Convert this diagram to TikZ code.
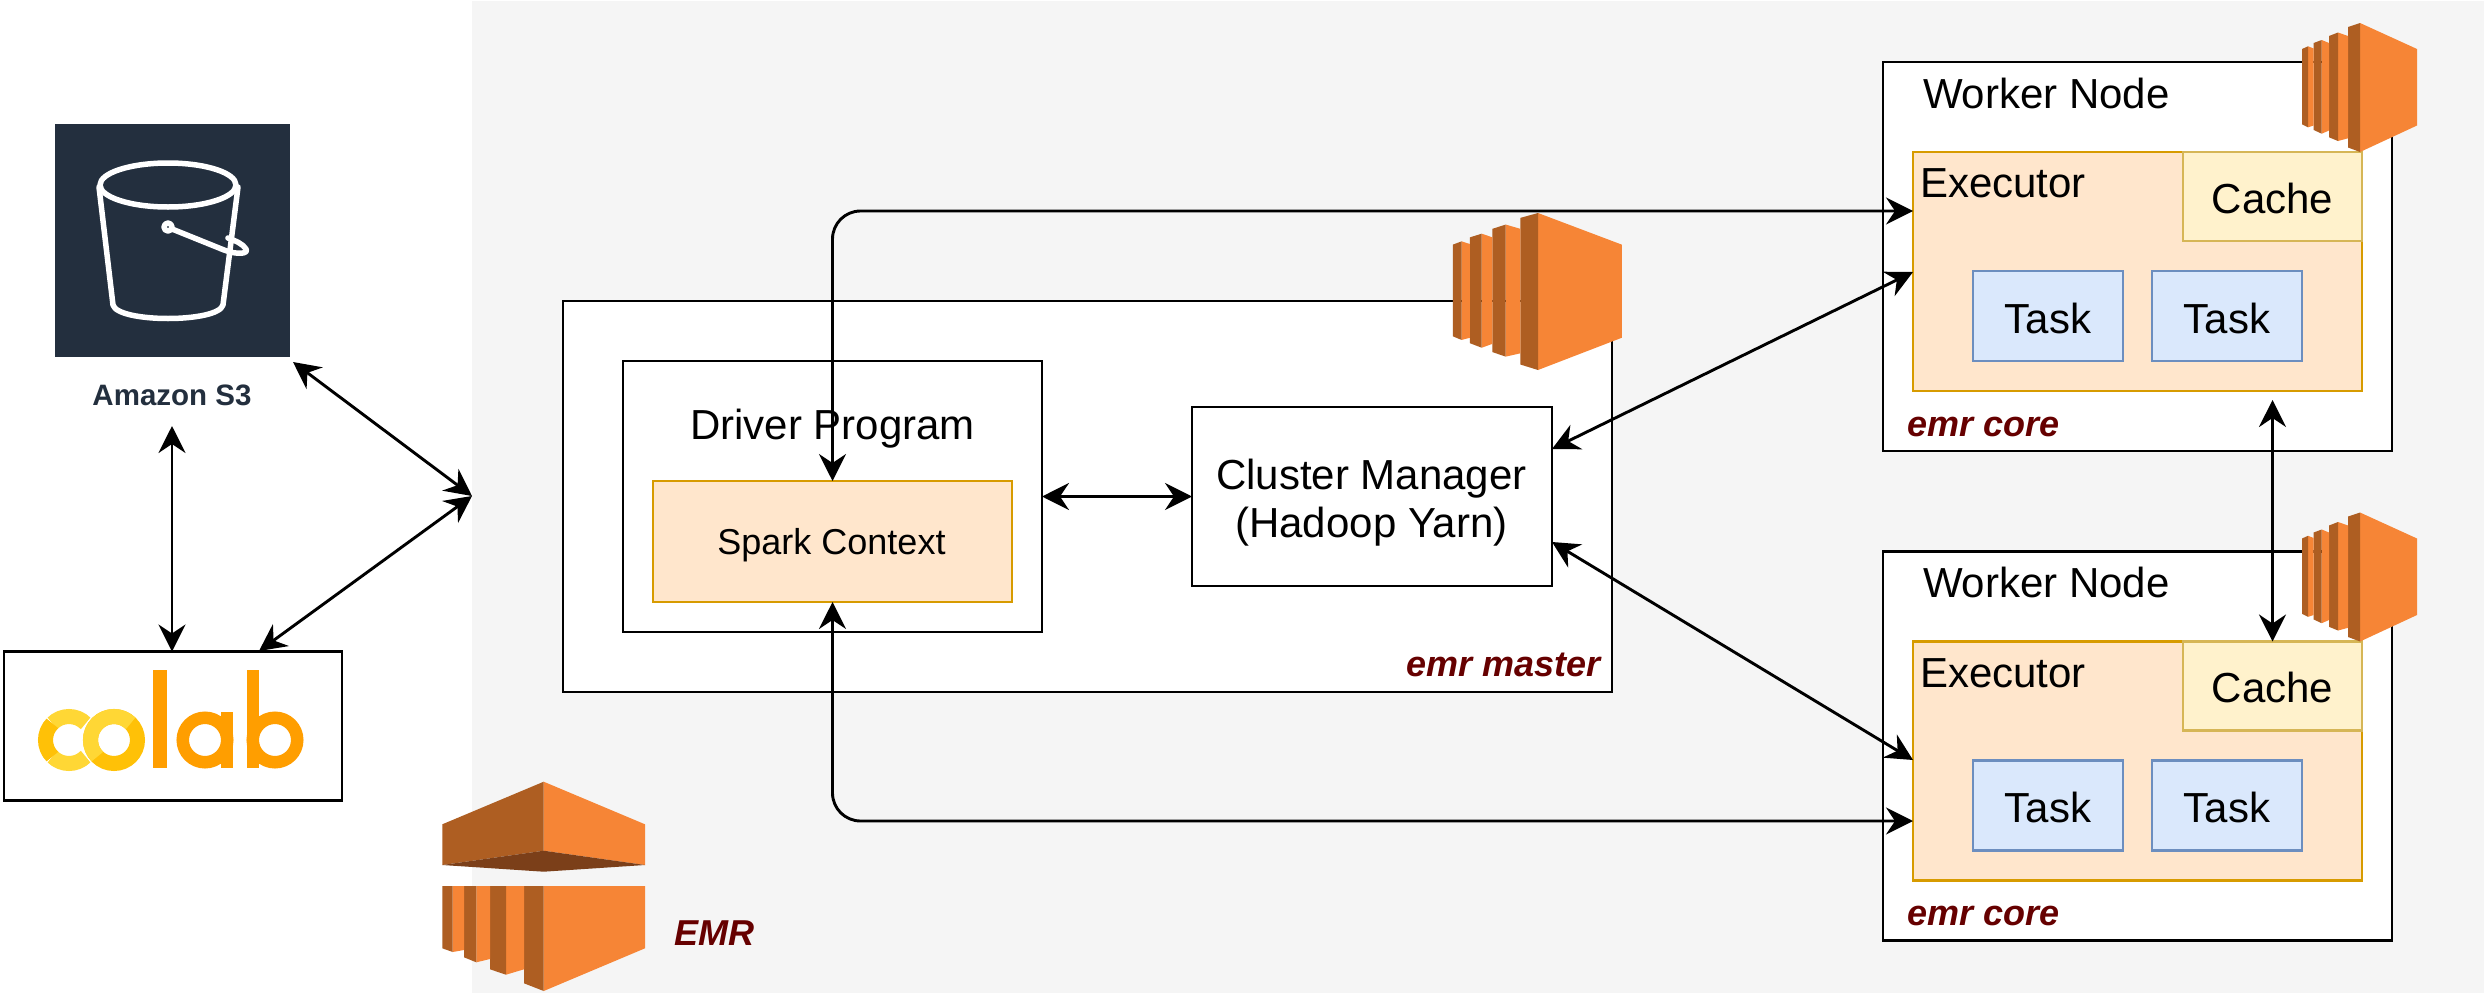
\documentclass[tikz,border=0pt]{standalone}
\usepackage{fontspec}
\setmainfont{Liberation Sans}
\usetikzlibrary{arrows.meta,calc}
\definecolor{awsdark}{HTML}{232F3E}
\definecolor{awsor}{HTML}{F68536}
\definecolor{awsbr}{HTML}{AE5E22}
\definecolor{awsdk}{HTML}{7B3F19}
\definecolor{panel}{HTML}{F5F5F5}
\definecolor{labelred}{HTML}{660000}
\definecolor{colabor}{HTML}{FF9E00}
\definecolor{colablt}{HTML}{FFD735}
\definecolor{colabdk}{HTML}{FFC107}
\definecolor{execfill}{HTML}{FFE6CC}
\definecolor{execline}{HTML}{D79B00}
\definecolor{cachefill}{HTML}{FFF2CC}
\definecolor{cacheline}{HTML}{D6B656}
\definecolor{taskfill}{HTML}{DAE8FC}
\definecolor{taskline}{HTML}{6C8EBF}
\tikzset{
  x=1pt,y=-1pt,
  box/.style={draw=black,fill=white,line width=2.9pt,inner sep=0pt,outer sep=0pt,align=center},
  bigtext/.style={font=\fontsize{42}{48}\selectfont,inner sep=0pt,outer sep=0pt,align=center},
  midtext/.style={font=\fontsize{36}{42}\selectfont,inner sep=0pt,outer sep=0pt,align=center},
  tag/.style={font=\fontsize{36}{42}\selectfont\bfseries\itshape,text=labelred,inner sep=0pt,outer sep=0pt},
  link/.style={line width=2.9pt,{Stealth[length=27pt,width=27pt,inset=9pt]}-{Stealth[length=27pt,width=27pt,inset=9pt]}},
  dk/.style={fill=awsbr,draw=none},
  lt/.style={fill=awsor,draw=none},
  execstyle/.style={box,draw=execline,fill=execfill},
  cachestyle/.style={box,draw=cacheline,fill=cachefill},
  taskstyle/.style={box,draw=taskline,fill=taskfill},
}
% server icon, tip of the front face at (#1,#2)
\newcommand{\servericon}[4]{%
\begin{scope}[shift={(#1,#2)},xscale=#3,yscale=#4]
  \fill[lt] (0,-64.5) -- (57,-38.5) -- (57,38) -- (0,64.5) -- cycle;
  \fill[dk] (-12,-60.5) -- (0,-64.5) -- (0,64.5) -- (-12,60) -- cycle;
  \fill[lt] (-22,-55) -- (-12,-51.5) -- (-12,50.8) -- (-22,53.5) -- cycle;
  \fill[dk] (-31,-51.5) -- (-22,-55) -- (-22,53.5) -- (-31,49.8) -- cycle;
  \fill[lt] (-38.3,-47.5) -- (-31,-44.5) -- (-31,43) -- (-38.3,46.2) -- cycle;
  \fill[dk] (-46.3,-44.5) -- (-38.3,-47.5) -- (-38.3,46.2) -- (-46.3,42.5) -- cycle;
  \fill[lt] (-52,-41.2) -- (-46.3,-39) -- (-46.3,38) -- (-52,39.8) -- cycle;
  \fill[dk] (-58,-38.5) -- (-52,-41.2) -- (-52,39.8) -- (-58,36.8) -- cycle;
\end{scope}}
% worker group, vertical offset #1, names suffixed #2
\newcommand{\workergroup}[2]{%
  \node[box,minimum width=509pt,minimum height=389pt] (worker#2) at (2137.5,256.5+#1) {};
  \node[bigtext,anchor=base west] (workertitle#2) at (1923,108+#1) {Worker Node};
  \node[execstyle,minimum width=449pt,minimum height=239pt] (exec#2) at (2137.5,271.5+#1) {};
  \node[cachestyle,minimum width=179pt,minimum height=89pt] (cache#2) at (2272.5,196.5+#1) {};
  \node[bigtext] (cachelabel#2) at (2272.5,198+#1) {Cache};
  \node[bigtext,anchor=base west] (exectitle#2) at (1920,197.5+#1) {Executor};
  \node[taskstyle,minimum width=150pt,minimum height=90pt] (taska#2) at (2048,316+#1) {};
  \node[taskstyle,minimum width=150pt,minimum height=90pt] (taskb#2) at (2227,316+#1) {};
  \node[bigtext] (taskalabel#2) at (2048,318+#1) {Task};
  \node[bigtext] (taskblabel#2) at (2227,318+#1) {Task};
  \node[tag,anchor=base west] (coretag#2) at (1907,436+#1) {emr core};
  \servericon{2360}{87.5+#1}{1}{1}
}
\begin{document}
\begin{tikzpicture}
\useasboundingbox (0,0) rectangle (2484,993);
\fill[white] (0,0) rectangle (2484,993);
\fill[panel] (472,1) rectangle (2484,993);

% S3
\node[fill=awsdark,inner sep=0pt,outer sep=0pt,minimum width=235pt,minimum height=233pt] (s3) at (172.5,240.5) {};
\begin{scope}[white,line width=5.5pt,line join=round,line cap=round]
  \draw (168,185) ellipse [x radius=68,y radius=22];
  \draw (99,187) -- (113,305) .. controls (118,323) and (218,323) .. (223,305) -- (238,187);
  \draw (168,227) circle [radius=4];
  \draw (172,229) -- (224,250) .. controls (237,255) and (249,254) .. (246,249) .. controls (243,244) and (236,241) .. (228,238);
\end{scope}
\node[font=\fontsize{29.5}{32}\selectfont\bfseries,text=awsdark,inner sep=0pt,outer sep=0pt] (s3label) at (172,395) {Amazon S3};

% Colab
\node[box,minimum width=338pt,minimum height=149pt] (colab) at (173,726) {};
\begin{scope}[line width=15pt]
  \draw[colablt] (69,740) ++(-45:23.5) arc[start angle=-45,end angle=-135,radius=23.5];
  \draw[colablt] (69,740) ++(135:23.5) arc[start angle=135,end angle=45,radius=23.5];
  \draw[colabdk] (69,740) ++(135:23.5) arc[start angle=135,end angle=225,radius=23.5];
  \draw[colabdk] (114,740) circle [radius=23.5];
  \draw[colablt] (114,740) ++(-45:23.5) arc[start angle=-45,end angle=-225,radius=23.5];
\end{scope}
\fill[colabor] (153,670) rectangle (167,768);
\draw[colabor,line width=12.5pt] (205,740) circle [radius=22.25];
\fill[colabor] (221,712) rectangle (233,768);
\fill[colabor] (247,670) rectangle (259,768);
\draw[colabor,line width=12.5pt] (275,740) circle [radius=22.25];

% master
\node[box,minimum width=1049pt,minimum height=391pt] (master) at (1087.5,496.5) {};
\node[box,minimum width=419pt,minimum height=271pt] (driver) at (832.5,496.5) {};
\node[bigtext,anchor=base] (drivertitle) at (832.5,439) {Driver Program};
\node[execstyle,minimum width=359pt,minimum height=121pt] (spark) at (832.5,541.5) {};
\node[midtext] (sparklabel) at (831.5,545.5) {Spark Context};
\node[box,minimum width=360pt,minimum height=179pt] (cluster) at (1372,496.5) {};
\node[bigtext] (clusterlabel) at (1371.5,502.5) {Cluster Manager\\(Hadoop Yarn)};
\node[tag,anchor=base east] (mastertag) at (1601,676) {emr master};
\servericon{1538}{291.5}{1.47}{1.217}

% workers
\workergroup{0}{one}
\workergroup{489.5}{two}

% EMR icon
\fill[lt] (543.7,781.7) -- (645,824.3) -- (645,865) -- (543.7,850.7) -- cycle;
\fill[dk] (543.7,781.7) -- (442.3,824.3) -- (442.3,865) -- (543.7,850.7) -- cycle;
\fill[awsdk] (442.3,865) -- (543.7,850.7) -- (645,865) -- (543.7,871.7) -- cycle;
\fill[lt] (543.7,886) -- (645,886) -- (645,948.3) -- (543.7,991) -- cycle;
\fill[dk] (524,886) -- (543.7,886) -- (543.7,991) -- (524,983.3) -- cycle;
\fill[lt] (506,886) -- (524,886) -- (524,969.3) -- (506,974.7) -- cycle;
\fill[dk] (490,886) -- (506,886) -- (506,974.7) -- (490,969.3) -- cycle;
\fill[lt] (476.3,886) -- (490,886) -- (490,959) -- (476.3,962.3) -- cycle;
\fill[dk] (464,886) -- (476.3,886) -- (476.3,962.3) -- (464,957.3) -- cycle;
\fill[lt] (452.7,886) -- (464,886) -- (464,950) -- (452.7,952) -- cycle;
\fill[dk] (442.3,886) -- (452.7,886) -- (452.7,952) -- (442.3,948.3) -- cycle;
\node[tag,anchor=base west] (emrtag) at (674,945) {EMR};

% connector ends
\coordinate (hub) at (472,496);
\coordinate (s3out) at (293,362);
\coordinate (s3below) at (172,426);
\coordinate (colabtop) at (259,651);
\coordinate (e1a) at ($(execone.north west)+(0,59)$);
\coordinate (e1b) at ($(execone.north west)+(0,120)$);
\coordinate (e2a) at ($(exectwo.north west)+(0,118.5)$);
\coordinate (e2b) at ($(exectwo.north west)+(0,179.5)$);
\coordinate (c1) at ($(cluster.north east)+(0,42)$);
\coordinate (c2) at ($(cluster.north east)+(0,135)$);
\coordinate (belowexec) at ($(cachetwo.north |- execone.south)+(0,9)$);

\draw[link] (s3out) -- (hub);
\draw[link] (colabtop) -- (hub);
\draw[link] (s3below) -- (s3below |- colab.north);
\draw[link,rounded corners=28pt] (spark.north) |- (e1a);
\draw[link,rounded corners=28pt] (spark.south) |- (e2b);
\draw[link] (driver.east) -- (cluster.west);
\draw[link] (c1) -- (e1b);
\draw[link] (c2) -- (e2a);
\draw[link] (belowexec) -- (cachetwo.north);
\end{tikzpicture}
\end{document}
